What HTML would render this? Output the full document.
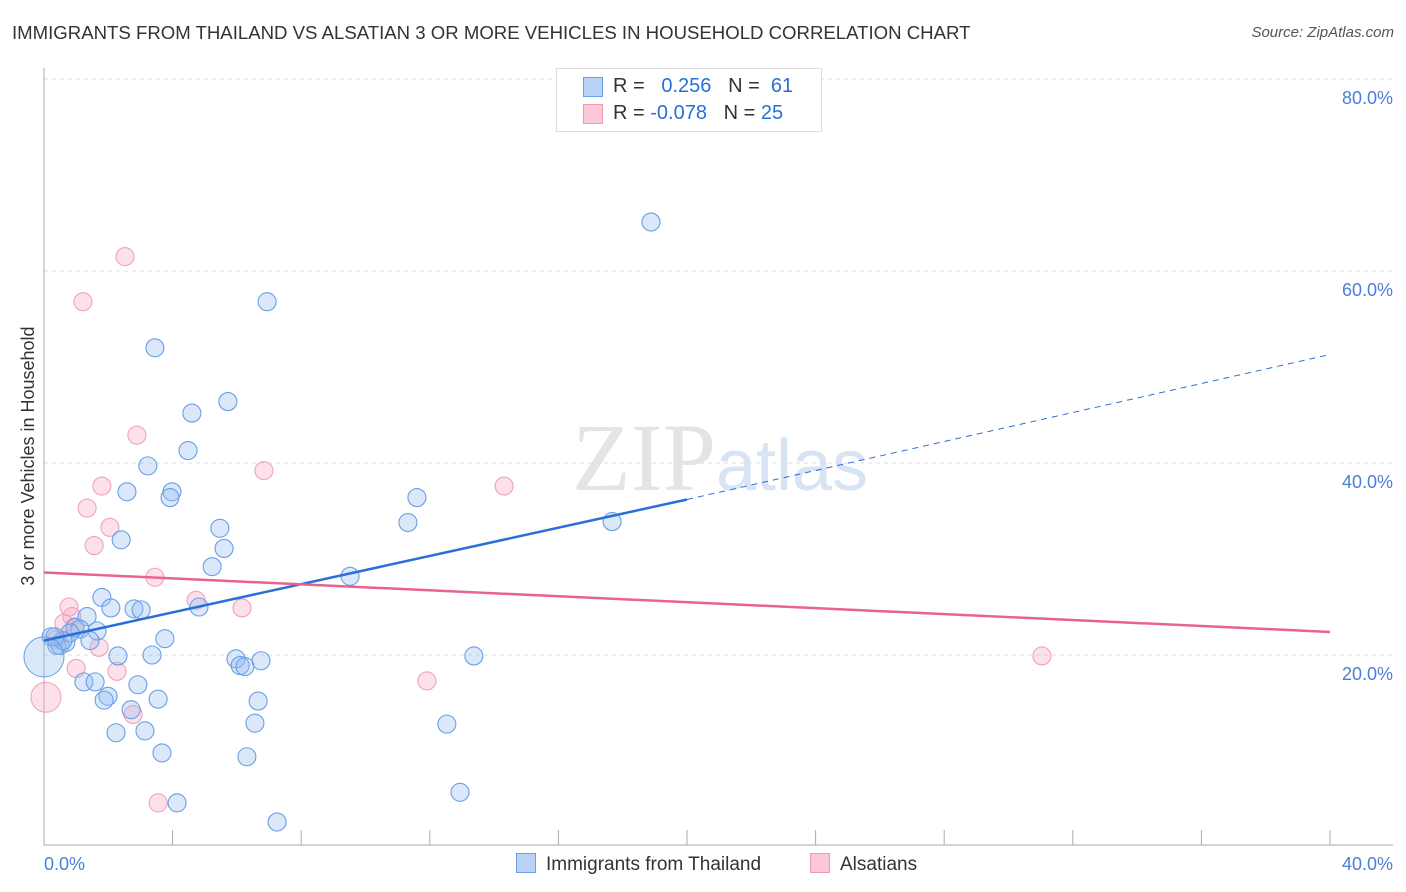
<!DOCTYPE html>
<html><head><meta charset="utf-8"><style>
body{margin:0;background:#fff;font-family:"Liberation Sans",sans-serif;}
#wrap{position:relative;width:1406px;height:892px;overflow:hidden;}
.t{position:absolute;white-space:nowrap;}
</style></head><body>
<div id="wrap">
<div class="t" style="left:12px;top:22px;font-size:18.6px;color:#333;">IMMIGRANTS FROM THAILAND VS ALSATIAN 3 OR MORE VEHICLES IN HOUSEHOLD CORRELATION CHART</div>
<div class="t" style="right:12px;top:24px;font-size:15px;color:#555;font-style:italic;">Source: ZipAtlas.com</div>
<svg id="svg" width="1406" height="892" style="position:absolute;left:0;top:0"></svg>
</div>
<script>
const bluePx=[[651,222],[267,302],[155,348],[192,413],[228,402],[188,451],[148,466],[127,492],[172,492],[170,498],[417,498],[408,523],[612,522],[220,528],[224,548],[121,540],[212,567],[350,576],[102,597],[111,608],[134,609],[141,610],[199,607],[87,617],[75,627],[97,631],[80,629],[51,637],[60,645],[66,643],[70,633],[90,641],[165,639],[152,655],[118,656],[236,659],[261,661],[240,666],[245,667],[474,656],[84,682],[95,682],[138,685],[108,696],[104,700],[158,699],[258,701],[131,710],[255,723],[116,733],[145,731],[447,724],[162,753],[247,757],[177,803],[460,792],[277,822],[57,645],[63,641],[55,637]];
const pinkPx=[[125,257],[83,302],[137,435],[264,471],[504,486],[102,486],[87,508],[110,527],[94,546],[155,577],[196,600],[69,607],[242,608],[72,617],[64,623],[75,628],[99,647],[56,640],[76,668],[117,671],[427,681],[133,715],[158,803],[1042,656]];
// data values (x %, y %)
const blueData=bluePx.map(p=>[+((p[0]-44)/1286*40).toFixed(2),+((847-p[1])/9.6).toFixed(1)]);
const pinkData=pinkPx.map(p=>[+((p[0]-44)/1286*40).toFixed(2),+((847-p[1])/9.6).toFixed(1)]);
const blueBig=[0,19.8], pinkBig=[0.06,15.6];
const yTicks=[20,40,60,80];
const blueLine=[[0,21.5],[20,36.2],[40,51.3]];
const pinkLine=[[0,28.6],[40,22.4]];
const X=v=>44+v/40*1286, Y=v=>847-v*9.6;
const s=document.getElementById('svg'),NS='http://www.w3.org/2000/svg';
function mk(t,a,p){const e=document.createElementNS(NS,t);for(const k in a)e.setAttribute(k,a[k]);(p||s).appendChild(e);return e;}
yTicks.forEach(v=>{const l=mk('line',{x1:44,x2:1393,y1:Y(v),y2:Y(v),stroke:'#ddd','stroke-dasharray':'4,4'});


const t=mk('text',{x:1393,y:Y(v)+25,'text-anchor':'end','font-size':18,fill:'#4a7fd6','font-family':'Liberation Sans'});t.textContent=v.toFixed(1)+'%';

});
mk('line',{x1:44,x2:44,y1:68,y2:845,stroke:'#aaa'});
mk('line',{x1:44,x2:1393,y1:845,y2:845,stroke:'#aaa'});
for(let i=1;i<=10;i++){mk('line',{x1:44+i*128.6,x2:44+i*128.6,y1:830,y2:845,stroke:'#aaa'});}
[['0.0%',44,'start'],['40.0%',1393,'end']].forEach(a=>{const t=mk('text',{x:a[1],y:870,'text-anchor':a[2],'font-size':18,fill:'#4a7fd6','font-family':'Liberation Sans'});t.textContent=a[0];

});
const yl=mk('text',{x:34,y:456,transform:'rotate(-90 34 456)','text-anchor':'middle','font-size':18,fill:'#333','font-family':'Liberation Sans'});yl.textContent='3 or more Vehicles in Household';


const wm=mk('text',{x:720,y:490,'text-anchor':'middle','font-size':96,fill:'#e4e4e4','font-family':'Liberation Serif'});wm.innerHTML='ZIP<tspan fill="#d6e4f4" font-family="Liberation Sans" font-size="72">atlas</tspan>';


function dots(d,f,st,nm){d.forEach(p=>{const c=mk('circle',{cx:X(p[0]),cy:Y(p[1]),r:9,fill:f,stroke:st,'stroke-width':1.1});

});}
dots(pinkData,'rgba(248,170,195,0.35)','#f0a2bb','alsatians-point');
dots(blueData,'rgba(150,190,240,0.35)','#6a9ee6','thailand-point');
let c1=mk('circle',{cx:X(blueBig[0]),cy:Y(blueBig[1]),r:20,fill:'rgba(150,190,240,0.35)',stroke:'#6a9ee6'});


let c2=mk('circle',{cx:X(pinkBig[0]),cy:Y(pinkBig[1]),r:15,fill:'rgba(248,170,195,0.35)',stroke:'#f0a2bb'});


let l1=mk('line',{x1:X(blueLine[0][0]),y1:Y(blueLine[0][1]),x2:X(blueLine[1][0]),y2:Y(blueLine[1][1]),stroke:'#2a6fd6','stroke-width':2.5});


let l2=mk('line',{x1:X(blueLine[1][0]),y1:Y(blueLine[1][1]),x2:X(blueLine[2][0]),y2:Y(blueLine[2][1]),stroke:'#2a6fd6','stroke-width':1,'stroke-dasharray':'6,5'});


let l3=mk('line',{x1:X(pinkLine[0][0]),y1:Y(pinkLine[0][1]),x2:X(pinkLine[1][0]),y2:Y(pinkLine[1][1]),stroke:'#e8648f','stroke-width':2.5});


</script>
<div class="t" style="left:556px;top:68px;width:264px;height:62px;border:1px solid #ddd;background:#fff;">
<div style="position:absolute;left:26px;top:8px;width:18px;height:18px;background:#b8d3f6;border:1px solid #6a9ee6"></div>
<div class="t" style="left:56px;top:6px;font-size:20px;color:#333">R = <span style="color:#2a6fd6">&nbsp;&nbsp;0.256</span>&nbsp;&nbsp;&nbsp;N = <span style="color:#2a6fd6">&nbsp;61</span></div>
<div style="position:absolute;left:26px;top:35px;width:18px;height:18px;background:#fbc8d8;border:1px solid #ee9ab5"></div>
<div class="t" style="left:56px;top:33px;font-size:20px;color:#333">R = <span style="color:#2a6fd6">-0.078</span>&nbsp;&nbsp;&nbsp;N = <span style="color:#2a6fd6">25</span></div>
</div>
<div class="t" style="left:516px;top:853px;font-size:19px;color:#333"><span style="display:inline-block;width:18px;height:18px;background:#b8d3f6;border:1px solid #6a9ee6;vertical-align:-3px;margin-right:10px"></span>Immigrants from Thailand</div>
<div class="t" style="left:810px;top:853px;font-size:19px;color:#333"><span style="display:inline-block;width:18px;height:18px;background:#fbc8d8;border:1px solid #ee9ab5;vertical-align:-3px;margin-right:10px"></span>Alsatians</div>
</body></html>
